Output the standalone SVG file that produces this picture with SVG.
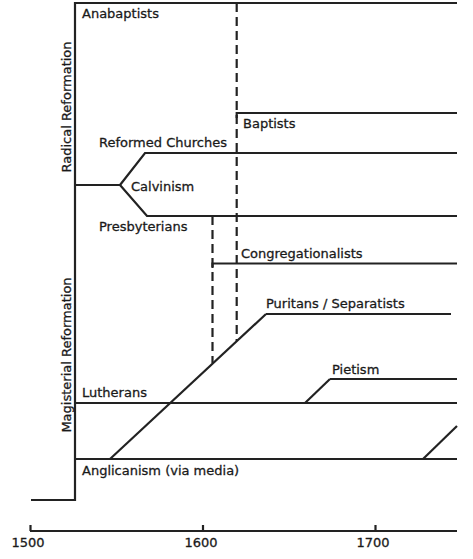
<svg xmlns="http://www.w3.org/2000/svg" width="473" height="559" viewBox="0 0 473 559">
<style>
.ln{fill:none;stroke:#222;stroke-width:2.2}
.ds{fill:none;stroke:#222;stroke-width:2.2;stroke-dasharray:9,5}
.t{font-family:"DejaVu Sans",sans-serif;font-size:13px;fill:#1a1a1a;stroke:#1a1a1a;stroke-width:0.3}
.m{text-anchor:middle}
</style>
<rect width="473" height="559" fill="#fff"/>
<g id="trunk">
<path class="ln" d="M31,500 H75 V3 H457"/>
</g>
<g id="label-radical">
<text class="t m" transform="translate(71,107) rotate(-90)">Radical Reformation</text>
</g>
<g id="label-magisterial">
<text class="t m" transform="translate(71,355) rotate(-90)">Magisterial Reformation</text>
</g>
<g id="anabaptists">
<text class="t" x="82" y="18">Anabaptists</text>
</g>
<g id="calvinism">
<path class="ln" d="M75,185 H120"/>
<text class="t" x="131" y="191">Calvinism</text>
</g>
<g id="reformed">
<path class="ln" d="M120,185 L145,153 H457"/>
<text class="t" x="99" y="147">Reformed Churches</text>
</g>
<g id="presbyterians">
<path class="ln" d="M120,185 L147,216 H457"/>
<text class="t" x="99" y="231">Presbyterians</text>
</g>
<g id="baptists">
<path class="ln" d="M236.7,118 V113 H457"/>
<text class="t" x="243" y="128">Baptists</text>
</g>
<g id="congregationalists">
<path class="ln" d="M212.5,268 V263.5 H457"/>
<text class="t" x="241" y="258">Congregationalists</text>
</g>
<g id="puritans">
<path class="ln" d="M266,314 H451"/>
<text class="t" x="266" y="308">Puritans / Separatists</text>
</g>
<g id="pietism">
<path class="ln" d="M330,379 H457"/>
<text class="t" x="332" y="374">Pietism</text>
</g>
<g id="lutherans">
<path class="ln" d="M75,403 H457"/>
<text class="t" x="82" y="397">Lutherans</text>
</g>
<g id="anglicanism">
<path class="ln" d="M75,459 H457"/>
<text class="t" x="82" y="475">Anglicanism (via media)</text>
</g>
<g id="connectors">
<path class="ln" d="M110,459 L266,314"/>
<path class="ln" d="M305,403 L330,379"/>
<path class="ln" d="M423,459 L457,426"/>
<path class="ds" d="M236.7,3 V341"/>
<path class="ds" d="M212.5,216 V363"/>
</g>
<g id="axis">
<path class="ln" d="M30,531 H457 M30.5,525 V531 M203,525 V531 M375.5,525 V531"/>
<text class="t m" x="28" y="547">1500</text>
<text class="t m" x="201" y="547">1600</text>
<text class="t m" x="373" y="547">1700</text>
</g>
</svg>
